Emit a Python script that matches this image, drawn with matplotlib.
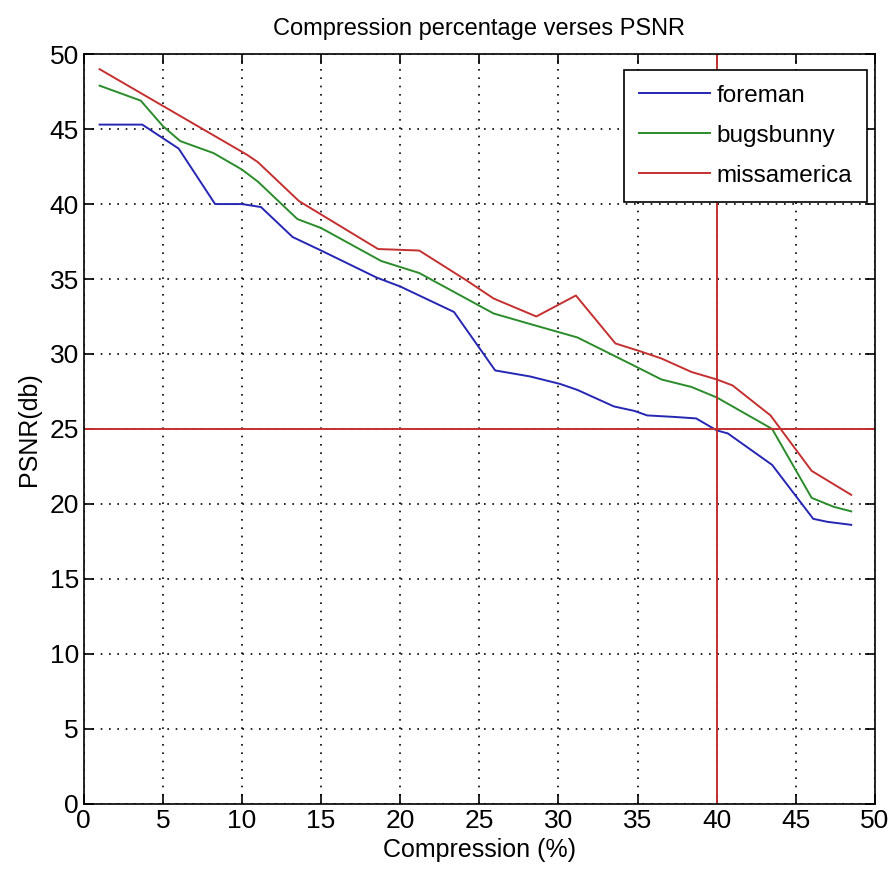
import matplotlib
matplotlib.use('Agg')
import matplotlib.pyplot as plt

plt.rcParams['font.family'] = ['Liberation Sans Narrow', 'Liberation Sans', 'DejaVu Sans']

# compression (%) / PSNR (db) pairs
fore_x = [1.0, 3.7, 6.0, 8.3, 10.0, 11.2, 13.2, 15.0, 18.5, 20.0, 23.4, 26.0, 28.2, 30.1,
          31.2, 33.5, 34.8, 35.6, 37.3, 38.7, 40.0, 40.7, 43.5, 46.1, 47.0, 48.5]
fore_y = [45.3, 45.3, 43.7, 40.0, 40.0, 39.8, 37.8, 36.9, 35.1, 34.5, 32.8, 28.9, 28.5, 28.0,
          27.6, 26.5, 26.2, 25.9, 25.8, 25.7, 24.9, 24.7, 22.6, 19.0, 18.8, 18.6]

bugs_x = [1.0, 3.6, 5.0, 6.1, 8.2, 10.0, 11.0, 13.5, 15.0, 18.8, 20.0, 21.2, 25.9, 28.2,
          31.2, 35.0, 36.5, 38.4, 40.0, 43.5, 46.0, 47.4, 48.5]
bugs_y = [47.9, 46.9, 45.2, 44.2, 43.4, 42.3, 41.5, 39.0, 38.4, 36.2, 35.8, 35.4, 32.7, 32.0,
          31.1, 29.1, 28.3, 27.8, 27.1, 25.0, 20.4, 19.8, 19.5]

miss_x = [1.0, 10.3, 11.0, 13.6, 18.6, 21.2, 24.2, 25.9, 28.6, 31.1, 33.6, 35.1, 36.5,
          38.4, 40.0, 41.0, 43.4, 46.0, 48.5]
miss_y = [49.0, 43.3, 42.8, 40.2, 37.0, 36.9, 34.9, 33.7, 32.5, 33.9, 30.7, 30.2, 29.7,
          28.8, 28.3, 27.9, 25.9, 22.2, 20.6]

names = ['foreman', 'bugsbunny', 'missamerica']
colors = ['#2626b4', '#2a8c2a', '#c43030']
psnr_limit = 25
comp_limit = 40

fig = plt.figure(figsize=(8.91, 8.88), dpi=100)
ax = fig.add_axes([0.094, 0.095, 0.888, 0.844])

for xs, ys, name, c in zip([fore_x, bugs_x, miss_x], [fore_y, bugs_y, miss_y], names, colors):
    ax.plot(xs, ys, color=c, lw=1.4, label=name)

ax.axhline(psnr_limit, color='#c43030', lw=1.4)
ax.axvline(comp_limit, color='#c43030', lw=1.4)

ax.set_xlim(0, 50)
ax.set_ylim(0, 50)
ax.set_xticks(range(0, 51, 5))
ax.set_yticks(range(0, 51, 5))
ax.grid(True, color='black', linestyle=(0, (1, 4)), lw=1.2)
ax.tick_params(direction='in', length=7, width=1.2, top=True, right=True, labelsize=19)
for s in ax.spines.values():
    s.set_linewidth(1.2)

ax.set_xlabel('Compression (%)', fontsize=18, labelpad=4)
ax.set_ylabel('PSNR(db)', fontsize=18, labelpad=6)
ax.set_title('Compression percentage verses PSNR', fontsize=17, pad=14)

leg = ax.legend(loc='upper right', bbox_to_anchor=(0.99, 0.979), borderaxespad=0,
                fontsize=17.5, fancybox=False, framealpha=1, edgecolor='black',
                handlelength=2.9, handletextpad=0.3, borderpad=0.6, labelspacing=0.75)
leg.get_frame().set_linewidth(1.2)

fig.savefig('out.png', dpi=100)
